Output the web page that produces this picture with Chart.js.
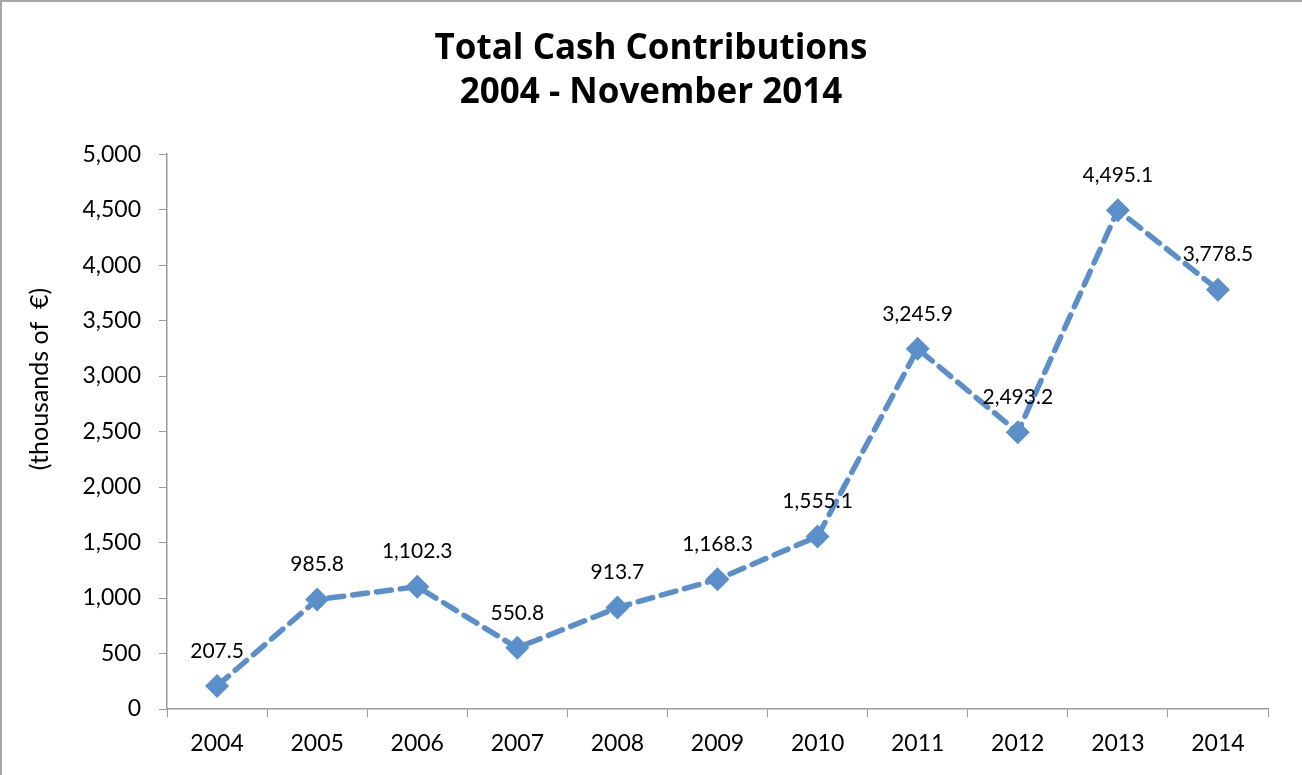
<!DOCTYPE html>
<html>
<head>
<meta charset="utf-8">
<script src="https://cdn.jsdelivr.net/npm/chart.js@4"></script>
<style>
body { margin: 0; background: #fff; }
</style>
</head>
<body>
<canvas id="graficoCash" width="1302" height="775"></canvas>
<script>
// data
var years = ["2004","2005","2006","2007","2008","2009","2010","2011","2012","2013","2014"];
var cash = [207.5, 985.8, 1102.3, 550.8, 913.7, 1168.3, 1555.1, 3245.9, 2493.2, 4495.1, 3778.5];
var titleLines = ["Total Cash Contributions", "2004 - November 2014"];
var yLabel = "(thousands of  €)";

var blue = "#5b8fca";
var gray = "#9a9a9a";

function fmt(v, dec) {
  return v.toLocaleString("en-US", {minimumFractionDigits: dec, maximumFractionDigits: dec});
}

// outer frame + y axis caption (sits above the axis centre in the original)
var frame = {
  id: "frame",
  beforeDraw: function (chart) {
    var c = chart.ctx;
    c.save();
    c.fillStyle = "#a6a6a6";
    c.fillRect(0, 0, chart.width, 2);
    c.fillRect(0, 0, 2, chart.height);
    c.restore();
  },
  afterDraw: function (chart) {
    var c = chart.ctx;
    c.save();
    c.translate(40, 379);
    c.rotate(-Math.PI / 2);
    c.font = "25px Lato";
    c.fillStyle = "#000";
    c.textAlign = "center";
    c.textBaseline = "middle";
    c.fillText(yLabel, 0, 0);
    c.restore();
  }
};

var valueLabels = {
  id: "valueLabels",
  afterDatasetsDraw: function (chart) {
    var c = chart.ctx;
    var meta = chart.getDatasetMeta(0);
    c.save();
    c.font = "21px Lato";
    c.fillStyle = "#000";
    c.textAlign = "center";
    c.textBaseline = "middle";
    meta.data.forEach(function (pt, i) {
      c.fillText(fmt(cash[i], 1), pt.x, pt.y - 35);
    });
    c.restore();
  }
};

new Chart(document.getElementById("graficoCash"), {
  type: "line",
  data: {
    labels: years,
    datasets: [{
      data: cash,
      borderColor: blue,
      backgroundColor: blue,
      borderWidth: 5.5,
      borderDash: [15, 9],
      borderCapStyle: "round",
      tension: 0,
      pointStyle: "rectRot",
      pointRadius: 12,
      pointBorderWidth: 0,
      pointBackgroundColor: blue
    }]
  },
  options: {
    responsive: false,
    animation: false,
    layout: { padding: { left: 34, right: 34, top: 0, bottom: 0 } },
    plugins: {
      legend: { display: false },
      tooltip: { enabled: false },
      title: {
        display: true,
        text: titleLines,
        color: "#000",
        font: { family: "Open Sans", size: 35, weight: "bold", lineHeight: 1.23 },
        padding: { top: 28, bottom: 40 }
      }
    },
    scales: {
      x: {
        offset: true,
        grid: { display: true, drawOnChartArea: false, offset: true, color: gray, tickLength: 8 },
        border: { color: gray, width: 1.5 },
        ticks: { color: "#000", font: { family: "Lato", size: 23 }, padding: 13 },
        afterFit: function (s) { s.height = 66; }
      },
      y: {
        min: 0,
        max: 5000,
        grid: { display: true, drawOnChartArea: false, color: gray, tickLength: 8 },
        border: { color: gray, width: 1.5 },
        ticks: {
          stepSize: 500,
          color: "#000",
          font: { family: "Lato", size: 23 },
          padding: 18,
          callback: function (v) { return fmt(v, 0); }
        },
        afterFit: function (s) { s.width = 133; }
      }
    }
  },
  plugins: [frame, valueLabels]
});
</script>
</body>
</html>
